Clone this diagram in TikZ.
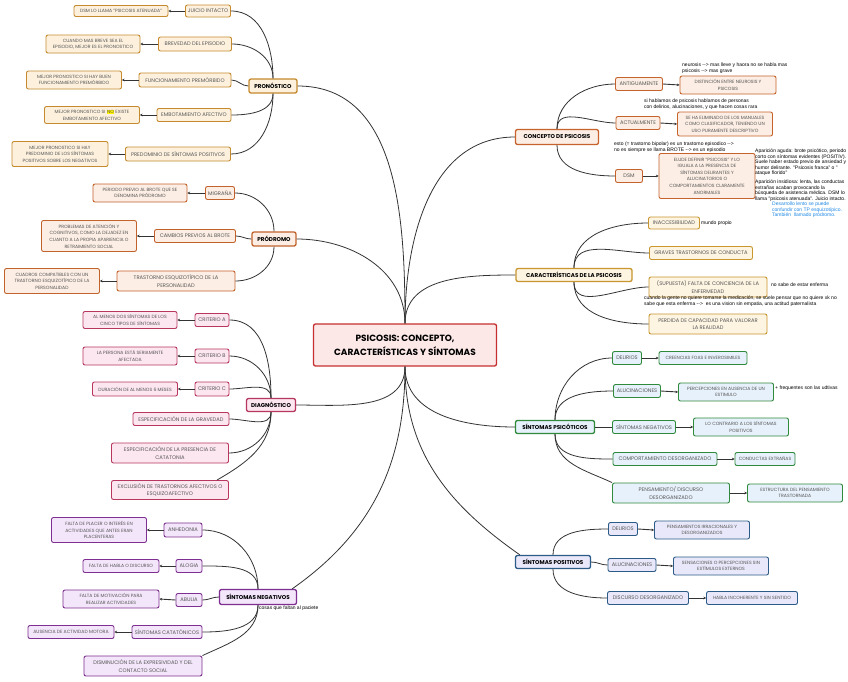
\documentclass[tikz,border=0pt]{standalone}
\usepackage{fontspec}
\setmainfont{Poppins}
\newfontfamily\labfont{Liberation Sans}
\usetikzlibrary{arrows.meta}
\definecolor{pronB}{HTML}{C58A2E}\definecolor{pronF}{HTML}{FDF1DE}
\definecolor{prodB}{HTML}{C2632C}\definecolor{prodF}{HTML}{FCEEE4}
\definecolor{diagB}{HTML}{B7375F}\definecolor{diagF}{HTML}{FCE6F0}
\definecolor{negB}{HTML}{7E2F91}\definecolor{negF}{HTML}{F3E6FA}
\definecolor{concB}{HTML}{C6632C}\definecolor{concF}{HTML}{FCEEE4}
\definecolor{carB}{HTML}{C99630}\definecolor{carF}{HTML}{FDF4E2}
\definecolor{psiB}{HTML}{2F8A3B}\definecolor{psiF}{HTML}{E7F1FB}
\definecolor{posB}{HTML}{2B5B86}\definecolor{posF}{HTML}{E9E8FA}
\definecolor{cenB}{HTML}{C62F2F}\definecolor{cenF}{HTML}{FDE8E8}
\definecolor{txtg}{HTML}{555555}
\definecolor{linec}{HTML}{333333}
\definecolor{noteblue}{HTML}{1E88E5}
\newcommand\darr{-\kern0pt-\kern0pt>}
\begin{document}
\begin{tikzpicture}[x=1pt,y=-1pt,
 box/.style={draw, rounded corners=2pt, align=center, inner sep=0.5pt},
 hdr/.style={box, line width=1.3pt, text=black, font=\bfseries\fontsize{5.6}{7}\selectfont},
 ch/.style={box, line width=0.9pt, text=txtg, font=\fontsize{5.2}{7.4}\selectfont},
 gc/.style={box, line width=0.9pt, text=txtg, font=\fontsize{4.6}{6.6}\selectfont},
 sz/.style 2 args={minimum width=#1pt, minimum height=#2pt},
 cpron/.style={draw=pronB, fill=pronF},
 cprod/.style={draw=prodB, fill=prodF},
 cdiag/.style={draw=diagB, fill=diagF},
 cneg/.style={draw=negB, fill=negF},
 cconc/.style={draw=concB, fill=concF},
 ccar/.style={draw=carB, fill=carF},
 cpsi/.style={draw=psiB, fill=psiF},
 cpos/.style={draw=posB, fill=posF},
 link/.style={draw=linec, line width=0.8pt},
 sub/.style={draw=linec, line width=0.9pt, -{Stealth[length=2.6pt,width=2.6pt]}},
 note/.style={font=\labfont\fontsize{5}{5.4}\selectfont, align=left, inner sep=0pt, text=black}
]
\fill[white] (0,0) rectangle (848,681);
\useasboundingbox (0,0) rectangle (848,681);

% central
\node[box, draw=cenB, fill=cenF, line width=1.3pt, sz={183}{42}, font=\bfseries\fontsize{9}{14}\selectfont, text=black] (cen) at (405,345) {PSICOSIS: CONCEPTO,\\CARACTERÍSTICAS Y SÍNTOMAS};

% ---------- PRONOSTICO
\node[hdr,cpron,sz={48}{14}] (pron) at (273,86) {PRONÓSTICO};
\node[ch,cpron,sz={45}{12}] (jui) at (208,11) {JUICIO INTACTO};
\node[gc,cpron,sz={94}{11}] (jui2) at (121,11) {DSM LO LLAMA "PSICOSIS ATENUADA"};
\node[ch,cpron,sz={73}{14}] (bre) at (195,44) {BREVEDAD DEL EPISODIO};
\node[gc,cpron,sz={94}{18}] (bre2) at (93,44) {CUANDO MAS BREVE SEA EL\\EPISODIO, MEJOR ES EL PRONOSTICO};
\node[ch,cpron,sz={92}{14}] (fun) at (185,80) {FUNCIONAMIENTO PREMÓRBIDO};
\node[gc,cpron,sz={95}{18}] (fun2) at (74,80) {MEJOR PRONOSTICO SI HAY BUEN\\FUNCIONAMIENTO PREMÓRBIDO};
\node[ch,cpron,sz={74}{13}] (emb) at (194,115) {EMBOTAMIENTO AFECTIVO};
\node[gc,cpron,sz={95}{17}] (emb2) at (92,115) {MEJOR PRONOSTICO SI {\setlength\fboxsep{0.3pt}\colorbox{yellow}{NO}} EXISTE\\EMBOTAMIENTO AFECTIVO};
\node[ch,cpron,sz={105}{14}] (pre) at (178,154) {PREDOMINIO DE SÍNTOMAS POSITIVOS};
\node[gc,cpron,sz={96}{25}] (pre2) at (60,154) {MEJOR PRONOSTICO SI HAY\\PREDOMINIO DE LOS SÍNTOMAS\\POSITIVOS SOBRE LOS NEGATIVOS};

% ---------- PRODROMO
\node[hdr,cprod,sz={44}{14}] (prod) at (274,239) {PRÓDROMO};
\node[ch,cprod,sz={29}{13}] (mig) at (220,193) {MIGRAÑA};
\node[gc,cprod,sz={94}{18}] (mig2) at (140,193) {PERIODO PREVIO AL BROTE QUE SE\\DENOMINA PRÓDROMO};
\node[ch,cprod,sz={81}{13}] (cam) at (195,236) {CAMBIOS PREVIOS AL BROTE};
\node[gc,cprod,sz={95}{31}] (cam2) at (89,236) {PROBLEMAS DE ATENCIÓN Y\\COGNITIVOS, COMO LA DEJADEZ EN\\CUANTO A LA PROPIA APARIENCIA O\\RETRAIMIENTO SOCIAL};
\node[ch,cprod,sz={118}{20}] (tra) at (176,281) {TRASTORNO ESQUIZOTÍPICO DE LA\\PERSONALIDAD};
\node[gc,cprod,sz={95}{25}] (tra2) at (52,281) {CUADROS COMPATIBLES CON UN\\TRASTORNO ESQUIZOTÍPICO DE LA\\PERSONALIDAD};

% ---------- DIAGNOSTICO
\node[hdr,cdiag,sz={49}{13}] (diag) at (271,405) {DIAGNÓSTICO};
\node[ch,cdiag,sz={34}{13}] (cA) at (212,320) {CRITERIO A};
\node[gc,cdiag,sz={94}{17}] (cA2) at (130,320) {AL MENOS DOS SÍNTOMAS DE LOS\\CINCO TIPOS DE SÍNTOMAS};
\node[ch,cdiag,sz={34}{14}] (cB) at (212,356) {CRITERIO B};
\node[gc,cdiag,sz={94}{18}] (cB2) at (130,356) {LA PERSONA ESTÁ SERIAMENTE\\AFECTADA};
\node[ch,cdiag,sz={34}{14}] (cC) at (212,389) {CRITERIO C};
\node[gc,cdiag,sz={85}{14}] (cC2) at (135,389) {DURACIÓN DE AL MENOS 6 MESES};
\node[ch,cdiag,sz={96}{13}] (grav) at (181,419) {ESPECIFICACIÓN DE LA GRAVEDAD};
\node[ch,cdiag,sz={117}{20}] (cat) at (170,453) {ESPECIFICACIÓN DE LA PRESENCIA DE\\CATATONIA};
\node[ch,cdiag,sz={117}{19}] (exc) at (170,490) {EXCLUSIÓN DE TRASTORNOS AFECTIVOS O\\ESQUIZOAFECTIVO};

% ---------- SINTOMAS NEGATIVOS
\node[hdr,cneg,sz={77}{15}] (neg) at (258,597) {SÍNTOMAS NEGATIVOS};
\node[note, anchor=west] (negnote) at (259,608) {cosas que faltan al paciete};
\node[ch,cneg,sz={38}{14}] (anh) at (183,530) {ANHEDONIA};
\node[gc,cneg,sz={95}{25}] (anh2) at (99,530) {FALTA DE PLACER O INTERÉS EN\\ACTIVIDADES QUE ANTES ERAN\\PLACENTERAS};
\node[ch,cneg,sz={26}{13}] (alo) at (189,566) {ALOGIA};
\node[gc,cneg,sz={76}{13}] (alo2) at (121,566) {FALTA DE HABLA O DISCURSO};
\node[ch,cneg,sz={26}{13}] (abu) at (189,600) {ABULIA};
\node[gc,cneg,sz={96}{18}] (abu2) at (111,599) {FALTA DE MOTIVACIÓN PARA\\REALIZAR ACTIVIDADES};
\node[ch,cneg,sz={70}{13}] (sca) at (167,632) {SÍNTOMAS CATATÓNICOS};
\node[gc,cneg,sz={86}{13}] (sca2) at (71,632) {AUSENCIA DE ACTIVIDAD MOTORA};
\node[ch,cneg,sz={118}{20}] (dis) at (143,666) {DISMINUCIÓN DE LA EXPRESIVIDAD Y DEL\\CONTACTO SOCIAL};

% ---------- CONCEPTO
\node[hdr,cconc,sz={83}{15}] (conc) at (557,137) {CONCEPTO DE PSICOSIS};
\node[ch,cconc,sz={47}{13}] (ant) at (639,84) {ANTIGUAMENTE};
\node[gc,cconc,sz={96}{18}] (ant2) at (728,85) {DISTINCIÓN ENTRE NEUROSIS Y\\PSICOSIS};
\node[ch,cconc,sz={44}{13}] (act) at (638,123) {ACTUALMENTE};
\node[gc,cconc,sz={95}{24}] (act2) at (725,124) {SE HA ELIMINADO DE LOS MANUALES\\COMO CLASIFICADOR, TENIENDO UN\\USO PURAMENTE DESCRIPTIVO};
\node[ch,cconc,sz={27}{13}] (dsm) at (629,176) {DSM};
\node[gc,cconc,sz={96}{45}] (dsm2) at (707,176) {ELUDE DEFINIR "PSICOSIS" Y LO\\IGUALA A LA PRESENCIA DE\\SÍNTOMAS DELIRANTES Y\\ALUCINATORIOS O\\COMPORTAMIENTOS CLARAMENTE\\ANORMALES};
\node[note, anchor=north west] (n1) at (682,63) {neurosis \darr{} mas lleve y haora no se habla mas\\psicosis \darr{} mas grave};
\node[note, anchor=north west] (n2) at (644,99) {si hablamos de psicosis hablamos de personas\\con delirios, alucinaciones, y que hacen cosas rara};
\node[note, anchor=north west] (n3) at (614,142) {esto (= trastorno bipolar) es un trastorno episodico \darr\\no es siempre se llama BROTE \darr{} es un episodio};
\node[note, anchor=north west] (n4) at (755,149) {Aparición aguda: brote psicótico, periodo\\corto con síntomas evidentes (POSITIV).\\Suele haber estado previo de ansiedad y\\humor delirante. "Psicosis franca" o "\\ataque florido"};
\node[note, anchor=north west] (n5) at (755,180) {Aparición insidiosa: lenta, las conductas\\extrañas acaban provocando la\\búsqueda de asistencia médica. DSM lo\\llama "psicosis atenuada". Juicio intacto.};
\node[note, anchor=north west, text=noteblue] (n6) at (772,202) {Desarrollo lento se puede\\confundir con TP esquizotípico.\\También\ \ llamado pródromo.};

% ---------- CARACTERISTICAS
\node[hdr,ccar,sz={116}{13}] (car) at (574,275) {CARACTERÍSTICAS DE LA PSICOSIS};
\node[ch,ccar,sz={51}{12}] (ina) at (674,223) {INACCESIBILIDAD};
\node[note, anchor=west] (n7) at (701,223) {mundo propio};
\node[ch,ccar,sz={103}{13}] (grv) at (701,253) {GRAVES TRASTORNOS DE CONDUCTA};
\node[ch,ccar,sz={118}{20}] (fal) at (708,287) {(SUPUESTA) FALTA DE CONCIENCIA DE LA\\ENFERMEDAD};
\node[note, anchor=west] (n8) at (771,285) {no sabe de estar enferma};
\node[note, anchor=north west] (n9) at (644,296) {cuando la gente no quiere tomarse la medicación, se suele pensar que no quiere xk no\\sabe que esta enferma \darr\ \ es una vision sin empatia, una actitud paternalista};
\node[ch,ccar,sz={118}{20}] (per) at (708,324) {PERDIDA DE CAPACIDAD PARA VALORAR\\LA REALIDAD};

% ---------- PSICOTICOS
\node[hdr,cpsi,sz={79}{13}] (psi) at (555,427) {SÍNTOMAS PSICÓTICOS};
\node[ch,cpsi,sz={29}{13}] (del) at (627,358) {DELIRIOS};
\node[gc,cpsi,sz={88}{13}] (del2) at (703,358) {CREENCIAS FOAS E INVEROSIMILES};
\node[ch,cpsi,sz={47}{13}] (alu) at (637,391) {ALUCINACIONES};
\node[gc,cpsi,sz={95}{18}] (alu2) at (726,392) {PERCEPCIONES EN AUSENCIA DE UN\\ESTIMULO};
\node[note, anchor=west] (n10) at (775,388) {+ frequentes son las udtivas};
\node[ch,cpsi,sz={63}{13}] (sng) at (644,427) {SÍNTOMAS NEGATIVOS};
\node[gc,cpsi,sz={95}{18}] (sng2) at (741,427) {LO CONTRARIO A LOS SÍNTOMAS\\POSITIVOS};
\node[ch,cpsi,sz={104}{13}] (com) at (665,459) {COMPORTAMIENTO DESORGANIZADO};
\node[gc,cpsi,sz={60}{13}] (com2) at (765,459) {CONDUCTAS EXTRAÑAS};
\node[ch,cpsi,sz={117}{20}] (pen) at (671,493) {PENSAMIENTO/ DISCURSO\\DESORGANIZADO};
\node[gc,cpsi,sz={95}{18}] (pen2) at (795,493) {ESTRUCTURA DEL PENSAMIENTO\\TRASTORNADA};

% ---------- POSITIVOS
\node[hdr,cpos,sz={75}{13}] (pos) at (553,562) {SÍNTOMAS POSITIVOS};
\node[ch,cpos,sz={29}{13}] (pde) at (623,529) {DELIRIOS};
\node[gc,cpos,sz={95}{18}] (pde2) at (702,530) {PENSAMIENTOS IRRACIONALES Y\\DESORGANIZADOS};
\node[ch,cpos,sz={48}{13}] (pal) at (632,565) {ALUCINACIONES};
\node[gc,cpos,sz={95}{18}] (pal2) at (721,566) {SENSACIONES O PERCEPCIONES SIN\\ESTÍMULOS EXTERNOS};
\node[ch,cpos,sz={81}{13}] (pdi) at (648,598) {DISCURSO DESORGANIZADO};
\node[gc,cpos,sz={91}{13}] (pdi2) at (752,598) {HABLA INCOHERENTE Y SIN SENTIDO};

% ---------- main connectors
\draw[link] (cen.north) to[out=90,in=0] (pron.east);
\draw[link] (cen.north) to[out=90,in=0] (prod.east);
\draw[link] (cen.north) to[out=90,in=180] (conc.west);
\draw[link] (cen.north) to[out=90,in=180] (car.west);
\draw[link] (cen.south) to[out=-90,in=0] (diag.east);
\draw[link] (cen.south) to[out=-90,in=35] ([xshift=-5pt]neg.north east);
\draw[link] (cen.south) to[out=-90,in=180] (psi.west);
\draw[link] (cen.south) to[out=-90,in=145] ([xshift=5pt]pos.north west);

% ---------- parent -> child (left)
\draw[link] (pron.north) to[out=90,in=0] (jui.east);
\draw[link] (pron.north) to[out=90,in=0] (bre.east);
\draw[link] (pron.west) to[out=180,in=0] (fun.east);
\draw[link] (pron.south) to[out=-90,in=0] (emb.east);
\draw[link] (pron.south) to[out=-90,in=0] (pre.east);
\draw[link] (prod.north) to[out=90,in=0] (mig.east);
\draw[link] (prod.west) to[out=180,in=0] (cam.east);
\draw[link] (prod.south) to[out=-90,in=0] (tra.east);
\draw[link] (diag.north) to[out=90,in=0] (cA.east);
\draw[link] (diag.north) to[out=90,in=0] (cB.east);
\draw[link] (diag.north) to[out=90,in=0] (cC.east);
\draw[link] (diag.south) to[out=-90,in=0] (grav.east);
\draw[link] (diag.south) to[out=-90,in=0] (cat.east);
\draw[link] (diag.south) to[out=-90,in=30] ([xshift=-12pt]exc.north east);
\draw[link] (neg.north) to[out=90,in=0] (anh.east);
\draw[link] (neg.north) to[out=90,in=0] (alo.east);
\draw[link] (neg.west) to[out=180,in=0] (abu.east);
\draw[link] (neg.south) to[out=-90,in=0] (sca.east);
\draw[link] (neg.south) to[out=-90,in=25] (dis.north east);
% ---------- parent -> child (right)
\draw[link] (conc.north) to[out=90,in=180] (ant.west);
\draw[link] (conc.north) to[out=90,in=180] (act.west);
\draw[link] (conc.south) to[out=-90,in=180] (dsm.west);
\draw[link] (car.north) to[out=90,in=180] (ina.west);
\draw[link] (car.north) to[out=90,in=180] (grv.west);
\draw[link] (car.south) to[out=-90,in=180] (fal.west);
\draw[link] (car.south) to[out=-90,in=180] (per.west);
\draw[link] (psi.north) to[out=90,in=180] (del.west);
\draw[link] (psi.north) to[out=90,in=180] (alu.west);
\draw[link] (psi.east) to[out=0,in=180] (sng.west);
\draw[link] (psi.south) to[out=-90,in=180] (com.west);
\draw[link] (psi.south) to[out=-90,in=155] (pen.north west);
\draw[link] (pos.north) to[out=90,in=180] (pde.west);
\draw[link] (pos.east) to[out=0,in=180] (pal.west);
\draw[link] (pos.south) to[out=-90,in=180] (pdi.west);

% ---------- child -> grandchild
\draw[sub] (jui.west) -- (jui2.east);
\draw[sub] (bre.west) -- (bre2.east);
\draw[sub] (fun.west) -- (fun2.east);
\draw[sub] (emb.west) -- (emb2.east);
\draw[sub] (pre.west) -- (pre2.east);
\draw[sub] (mig.west) -- (mig2.east);
\draw[sub] (cam.west) -- (cam2.east);
\draw[sub] (tra.west) -- (tra2.east);
\draw[sub] (cA.west) -- (cA2.east);
\draw[sub] (cB.west) -- (cB2.east);
\draw[sub] (cC.west) -- (cC2.east);
\draw[sub] (anh.west) -- (anh2.east);
\draw[sub] (alo.west) -- (alo2.east);
\draw[sub] (abu.west) -- (abu2.east);
\draw[sub] (sca.west) -- (sca2.east);
\draw[sub] (ant.east) -- (ant2.west);
\draw[sub] (act.east) -- (act2.west);
\draw[sub] (dsm.east) -- (dsm2.west);
\draw[sub] (del.east) -- (del2.west);
\draw[sub] (alu.east) -- (alu2.west);
\draw[sub] (sng.east) -- (sng2.west);
\draw[sub] (com.east) -- (com2.west);
\draw[sub] (pen.east) -- (pen2.west);
\draw[sub] (pde.east) -- (pde2.west);
\draw[sub] (pal.east) -- (pal2.west);
\draw[sub] (pdi.east) -- (pdi2.west);
\end{tikzpicture}
\end{document}
